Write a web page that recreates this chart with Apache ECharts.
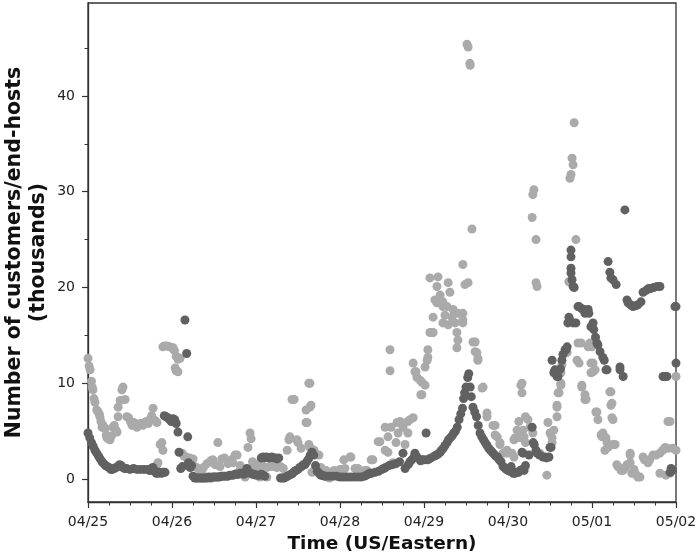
<!DOCTYPE html>
<html>
<head>
<meta charset="utf-8">
<script src="https://cdn.jsdelivr.net/npm/echarts@6/dist/echarts.min.js"></script>
<style>
html,body{margin:0;padding:0;background:#fff;}
#chart{width:698px;height:560px;}
</style>
</head>
<body>
<div id="chart"></div>
<script>
// x: hours since 04/25 00:00 (US/Eastern); y: thousands of customers/end-hosts
const dateLabels = ['04/25','04/26','04/27','04/28','04/29','04/30','05/01','05/02'];
const yTickValues = [0, 10, 20, 30, 40];
const yMinorTickValues = [5, 15, 25, 35, 45];

const lightPoints = [
[0,12.6],[0.3,11.8],[0.6,11.4],[1,10.2],[1.2,9.6],[1.4,9.3],[1.7,8.4],[2,8.0],[2.5,7.2],[2.9,7.0],[3.2,6.8],[3.4,6.5],[3.7,6.0],[4,5.4],[4.3,5.6],[4.9,5.3],[5.2,4.6],[5.4,4.3],[5.8,4.2],[6.3,4.1],[6.7,4.5],[7.1,5.4],[7.5,5.6],[8,5.1],[8.3,4.9],[8.6,6.5],[8.6,7.5],[9.2,8.2],[9.7,9.3],[10,9.6],[10.6,8.3],[11.1,6.5],[11.6,6.4],[12.1,6.0],[12.6,5.6],[13.1,5.9],[13.6,5.6],[14,5.4],[14.5,5.7],[15,5.8],[15.7,5.6],[16.2,5.9],[16.7,6.0],[17.2,5.8],[17.7,6.2],[18.2,6.6],[18.6,7.4],[19.2,6.1],[19.7,5.9],[19.7,1.5],[20,1.7],[20.6,3.6],[21.1,3.8],[21.4,3.0],
[21.4,13.8],[21.9,13.9],[22.6,13.9],[23.3,13.8],[24,13.7],[24.3,13.7],[24.7,13.4],[25.2,12.8],[25.7,12.5],[24.9,11.6],[25.2,11.3],[25.7,11.2],[26.3,12.6],
[26.9,2.7],[27.4,2.4],[28,2.3],[29,2.2],[30,2.1],[30.5,1.3],[31,1.2],[32,0.8],[32.5,0.7],[33,1.2],[34,1.6],[35,1.9],[35.7,2.0],[36.3,1.5],[37.1,3.8],[37.7,1.3],[38.2,2.1],[39,2.2],[40,1.6],[40.5,1.8],[41,2.0],[41.4,1.7],[42,2.5],[42.6,2.5],[42.9,0.7],[43.5,1.4],[44,0.8],[44.9,0.2],[45.7,3.3],[46.3,4.8],[46.6,4.2],[47,1.8],[47.4,1.3],[48.3,1.5],[49.1,0.2],
[48.5,1.3],[49,1.4],[50,1.3],[51,1.2],[51.1,0.2],[52,1.3],[53,1.3],[54,1.2],[55,1.3],[55.8,1.1],[56.9,3.0],[57.4,4.1],[57.7,4.4],[58.3,8.3],[58.9,8.3],[59.7,4.1],[60,3.8],[60.9,3.2],[62.3,7.2],[62.3,5.9],[62.6,5.9],[63.1,10.0],[63.4,10.0],[63.4,7.5],[63.7,7.7],[63.1,3.6],[63.4,3.3],[64.3,3.0],[64.6,3.0],[66,2.5],[64,0.7],[65,1.0],[66.5,1.2],[67,0.8],[68,0.9],[68.5,0.2],[69,0.1],[70.3,0.9],[71,0.5],[72,1.0],
[73.1,2.0],[73.4,1.1],[74.9,2.3],[75.1,2.3],[76.3,1.1],[77.1,1.1],[78,0.8],[79.1,0.9],[79.7,0.9],[80.9,2.0],[81.4,2.0],[82.9,3.9],[83.4,3.9],[84.9,5.4],[84.9,3.0],[85.7,4.4],[85.7,2.8],[86.3,13.5],[86.3,11.3],[86.6,5.4],[87.1,1.7],[88,3.8],[88.3,5.9],[88.6,4.8],[89.1,6.0],[90,5.4],[90.6,3.6],[91.4,6.0],[91.4,4.8],[92,6.2],[92.9,6.4],[92.9,12.1],[93.4,11.2],[93.7,11.2],[94,10.6],[94.9,10.3],[95.1,8.8],[95.4,10.1],[95.4,8.8],
[96.3,9.8],[96.3,11.7],[96.9,12.4],[97.1,13.5],[97.1,12.7],[97.7,15.3],[97.7,21.0],[98.3,15.3],[98.6,16.9],[98.6,15.3],[99.1,18.7],[99.7,20.1],[99.7,18.4],[100,21.1],[100.6,19.2],[101.4,18.5],[101.4,16.3],[101.4,18.0],[102,17.1],[102.6,18.0],[102.9,20.5],[102.9,16.1],[103.4,19.5],[104,16.9],[104.3,17.7],[104.9,16.3],[105.4,15.3],[105.4,13.7],[105.7,17.3],[105.7,14.5],[107.1,16.6],[107.1,22.4],[107.1,17.3],[107.1,16.3],[107.7,20.3],[108.3,45.4],[108.6,45.1],[108.6,20.5],[109.1,43.4],[109.2,43.2],[109.7,26.1],[110,14.3],[110.6,14.3],[110.6,13.3],[111.1,13.2],[111.4,12.6],[111.4,12.4],[112.6,9.5],[112.9,9.6],[114,6.9],[114,6.5],[115.7,5.6],[116.3,5.6],[116.3,4.6],[116.9,4.4],[117.7,3.6],[117.7,3.8],[118.6,2.7],[119.1,2.8],[119.7,2.7],[119.7,3.0],
[121.1,2.7],[121.7,4.1],[121.7,2.3],[122,4.3],[122.6,5.1],[123.1,6.0],[123.4,4.3],[123.7,9.8],[124,10.0],[124,9.0],[124.3,5.1],[124.6,4.4],[125,6.5],[125,3.8],[125.7,6.2],[126.3,5.4],[126.9,27.3],[127.1,29.7],[127.1,4.8],[127.4,30.2],[128,25.0],[128,20.5],[128.3,20.1],[129.1,2.7],[131.1,0.4],[131.4,5.9],[132,4.8],[132.6,3.8],[132.6,4.3],[133.1,5.1],[134,7.5],[134,7.7],[134,6.5],[134.3,9.0],[134.6,9.0],[135.1,10.0],[135.1,11.1],[135.1,9.8],[135.4,11.9],[136.9,13.2],[137.4,20.6],[137.7,31.4],[138,31.8],[138.3,33.5],[138.6,32.8],[138.9,37.2],[139.4,25.0],[139.7,12.4],[140,14.2],[140.3,12.1],[140.9,14.2],[141.1,9.6],[141.1,9.8],[142,8.8],[142,8.3],[142.3,8.3],[142.9,13.8],[143.4,14.2],[143.7,12.1],[143.7,11.1],
[144,13.8],[144.3,12.1],[144.3,11.2],[144.9,11.4],[145.1,7.0],[145.4,7.0],[145.7,6.2],[146.6,4.6],[146.9,4.4],[147.1,4.8],[147.7,3.0],[148,4.3],[148.3,3.8],[148.6,3.3],[149.1,9.1],[149.4,9.1],[149.4,7.7],[149.7,7.9],[149.7,6.4],[150,6.2],[150,3.6],[150.6,3.6],[151.1,1.5],[151.4,1.3],[152.3,0.9],[152.9,0.9],[153.5,1.2],[154,1.5],[154.9,2.7],[154.9,2.5],[154.9,1.7],[155.4,0.6],[156,1.0],[156.5,0.5],[157.1,0.2],[157.7,0.2],[158.6,2.3],[159,2.0],[160,1.7],[160.5,2.0],[161.4,2.5],[162.3,2.5],[163.4,2.7],[163.4,0.6],[164.2,3.0],[164.9,3.3],[165.1,0.4],[165.7,6.0],[165.7,3.2],[166.3,6.0],[166.3,0.6],[167.1,3.2],[168,3.0],[168,10.7]
];

const darkPoints = [
[0,4.8],[0.5,4.3],[1,3.8],[1.5,3.4],[2,3.0],[2.5,2.7],[3,2.4],[3.5,2.1],[4,1.8],[4.5,1.6],[5,1.4],[5.5,1.3],[6,1.2],[6.5,1.0],[7,1.0],[7.5,1.1],[8,1.2],[8.5,1.3],[9,1.5],[9.5,1.4],[10,1.2],[10.5,1.1],[11,1.1],[12,1.0],[13,1.1],[14,1.0],[15,1.0],[16,1.0],[17,1.0],[17.5,0.9],[18,0.9],[18.5,1.2],[19,0.9],[19.5,0.6],[20,0.6],[20.5,0.7],[21,0.6],[21.5,0.7],[22,0.7],
[21.8,6.6],[22.3,6.5],[22.8,6.4],[23.3,6.2],[23.8,6.0],[24.3,6.3],[24.8,6.2],[25.2,5.8],[25.7,4.9],[26,2.8],[26.5,1.1],[27,1.3],[27.7,16.6],[28.2,13.1],[28.5,4.4],[28.7,1.7],[29.2,1.2],[29.6,1.4],
[30,0.3],[30.5,0.1],[31,0.1],[31.5,0.1],[32,0.1],[32.5,0.1],[33,0.1],[33.5,0.1],[34,0.1],[34.5,0.2],[35,0.1],[35.5,0.2],[36,0.2],[36.5,0.2],[37,0.2],[37.5,0.2],[38,0.3],[38.5,0.3],[39,0.3],[39.5,0.3],[40,0.3],[40.5,0.4],[41,0.4],[41.5,0.4],[42,0.5],[42.5,0.5],[43,0.5],[43.5,0.6],[44,0.6],[44.5,0.5],[45,0.6],[45.4,1.1],[46,0.7],[46.5,0.6],[47,0.5],[47.5,0.5],[48,0.4],[48.5,0.4],[49,0.4],[49.5,0.5],[50,0.4],[50.5,0.3],
[49.5,2.2],[50,2.3],[50.5,2.2],[51,2.3],[51.5,2.2],[52,2.2],[52.5,2.3],[53,2.2],[53.5,2.2],[54,2.1],[54.5,2.2],
[55,0.1],[55.5,0.1],[56,0.1],[56.5,0.2],[57,0.3],[57.5,0.4],[58,0.5],[58.5,0.6],[59,0.8],[59.5,0.9],[60,1.0],[60.5,1.2],[61,1.3],[61.5,1.5],[62,1.5],[62.5,1.8],[63,2.1],[63.5,2.5],[64,2.8],[64.5,2.5],[65,1.4],[65.5,0.8],[66,0.6],[66.5,0.4],[67,0.4],[67.5,0.3],[68,0.3],[69,0.3],[70,0.3],[71,0.3],
[72,0.2],[73,0.2],[74,0.2],[75,0.2],[76,0.2],[77,0.2],[78,0.2],[79,0.3],[79.5,0.4],[80,0.5],[80.5,0.6],[81,0.6],[82,0.7],[83,0.8],[84,1.0],[84.5,1.1],[85,1.2],[86,1.4],[87,1.5],[88,1.6],[89,1.8],[90,2.7],[90.6,1.1],[91.5,1.5],[92,1.8],[92.5,2.0],[93,2.2],[93.4,2.7],[94,2.3],[95,1.9],[95.5,2.0],
[96,2.0],[96.6,4.8],[97,2.0],[97.5,2.1],[98,2.2],[99,2.4],[99.5,2.5],[100,2.6],[100.6,2.8],[101,3.0],[101.5,3.2],[102,3.5],[102.6,3.8],[103,4.1],[103.5,4.3],[104,4.5],[104.5,4.8],[105,5.0],[105.5,5.4],[106,6.2],[106.5,6.8],[107,7.4],[107.3,8.4],[107.6,9.0],[108,9.6],[108.5,10.6],[108.8,11.0],[109.2,9.6],[109.5,8.6],[110,7.5],[110.5,7.0],[111,6.5],[111.5,5.6],[112,4.8],[112.5,4.4],[113,4.1],[113.5,3.8],[114,3.5],[114.5,3.2],[115,3.0],[115.5,2.8],[116,2.6],[116.5,2.4],[117,2.3],[117.5,2.0],[118,1.8],[118.6,1.3],[119,1.2],[119.5,1.0],
[120,0.9],[120.5,0.8],[120.9,1.3],[121.5,0.6],[122,0.6],[122.6,0.7],[123,0.7],[123.5,0.9],[124,1.0],[124,2.8],[124.3,2.7],[124.6,0.9],[125,1.4],[126,2.5],[126.9,5.4],[127.2,3.8],[127.5,3.6],[128,3.0],[128.3,2.7],[129,2.5],[130,2.3],[130.5,2.3],[131,2.2],[131.7,2.3],[132,3.3],[132.3,3.3],
[132.6,12.4],[133.1,11.1],[133.4,11.4],[134,10.7],[134.3,10.7],[135,11.5],[135.4,12.4],[135.7,13.0],[136.3,13.5],[136.6,13.5],[136.9,13.8],[137.1,16.3],[137.4,16.9],[137.8,16.5],[138,21.5],[138,22.0],[138,23.2],[138,23.9],[138.3,20.8],[138.6,20.1],[138.9,20.0],[138.6,16.3],[139.4,16.3],[140,18.0],[140.3,18.0],[141,17.8],[141.7,17.7],[142,17.3],[142.9,17.7],[143.1,17.3],[143.7,15.9],
[144,15.9],[144.3,16.3],[144.5,15.6],[145,14.8],[145.4,14.2],[145.7,14.0],[146.3,13.3],[147.1,12.7],[147.5,12.4],[148,11.4],[148.3,11.4],[148.6,22.7],[149.1,21.6],[149.4,21.0],[150,20.8],[150.9,20.3],[152,11.4],[152,11.7],[152.9,10.7],[153.4,28.1],[154,18.7],[154.3,18.4],[155,18.2],[155.7,18.0],[156.5,18.1],[157.1,18.2],[158,18.5],[158.6,19.5],[159.5,19.7],[160.2,19.9],[160.9,19.9],[161.6,20.0],[162.6,20.1],[163.4,20.1],[164.3,10.7],[164.9,10.7],[165.4,10.7],[166.3,0.7],[166.6,1.1],[167,0.9],[167.7,18.0],[168,12.1],[168,18.0]
];

const chart = echarts.init(document.getElementById('chart'), null, {renderer: 'canvas'});
const FONT = 'DejaVu Sans';
const axisColor = '#333333';
const yMin = -2.4, yMax = 49.7;

chart.setOption({
  animation: false,
  backgroundColor: '#ffffff',
  grid: {left: 88, right: 22, top: 3, bottom: 58, containLabel: false, outerBoundsMode: 'none',
    show: true, borderColor: axisColor, borderWidth: 1.3, backgroundColor: 'transparent'},
  xAxis: [{
    type: 'value', min: 0, max: 168, interval: 24,
    name: 'Time (US/Eastern)', nameLocation: 'middle', nameGap: 33,
    nameTextStyle: {fontFamily: FONT, fontSize: 18.5, fontWeight: 'bold', color: '#111'},
    axisLine: {show: true, onZero: false, lineStyle: {color: axisColor, width: 1.3}},
    axisTick: {show: true, inside: false, length: 6, lineStyle: {color: axisColor, width: 1.2}},
    minorTick: {show: true, splitNumber: 4, length: 3.5, lineStyle: {color: axisColor, width: 1}},
    axisLabel: {fontFamily: FONT, fontSize: 14, color: '#222', margin: 13,
      formatter: v => dateLabels[Math.round(v / 24)] || ''},
    splitLine: {show: false}, minorSplitLine: {show: false}
  }],
  yAxis: [{
    type: 'value', min: yMin, max: yMax,
    name: 'Number of customers/end-hosts\n(thousands)', nameLocation: 'middle', nameGap: 37.5,
    nameMoveOverlap: false,
    nameTextStyle: {fontFamily: FONT, fontSize: 20.5, fontWeight: 'bold', color: '#111', lineHeight: 24, align: 'center'},
    axisLine: {show: true, onZero: false, lineStyle: {color: axisColor, width: 1.3}},
    axisTick: {show: true, inside: false, length: 6, customValues: yTickValues, lineStyle: {color: axisColor, width: 1.2}},
    axisLabel: {fontFamily: FONT, fontSize: 14, color: '#222', margin: 13, customValues: yTickValues},
    splitLine: {show: false}
  }, {
    type: 'value', min: yMin, max: yMax, position: 'left',
    axisLine: {show: false},
    axisTick: {show: true, inside: false, length: 3.5, customValues: yMinorTickValues, lineStyle: {color: axisColor, width: 1}},
    axisLabel: {show: false},
    splitLine: {show: false}
  }],
  series: [{
    type: 'scatter', name: 'light', data: lightPoints, symbol: 'circle', symbolSize: 9,
    itemStyle: {color: '#aaaaaa', opacity: 1}, xAxisIndex: 0, yAxisIndex: 0, z: 2, clip: true
  }, {
    type: 'scatter', name: 'dark', data: darkPoints, symbol: 'circle', symbolSize: 9,
    itemStyle: {color: '#616161', opacity: 1}, xAxisIndex: 0, yAxisIndex: 0, z: 3, clip: true
  }]
});
</script>
</body>
</html>
